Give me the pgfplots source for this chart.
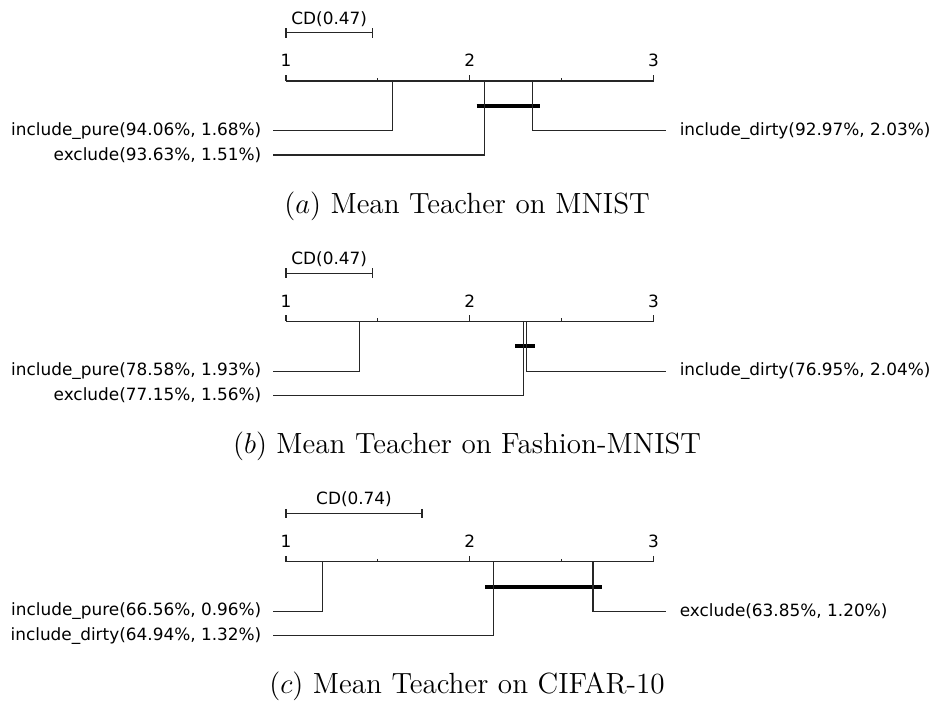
\documentclass[border=0pt]{standalone}
\usepackage{pgfplots}
\pgfplotsset{compat=1.18}
\usepackage{fontspec}
\newfontfamily\dvs{DejaVu Sans}
\newcommand\lab{\dvs\fontsize{8.45}{10}\selectfont}
\newcommand\capf{\fontsize{14.6}{16}\selectfont}
\pgfplotsset{cdaxis/.style={hide axis, clip=false, x=91.9pt, y=0.5pt, y dir=reverse,
  xmin=-0.5561, xmax=4.5147, ymin=0, ymax=240.4, anchor=north west},
  cdthin/.style={black!85, line width=0.55pt, no marks},
  cdthick/.style={black, line width=2pt, no marks}}
\begin{document}
\begin{tikzpicture}
\path[use as bounding box] (0,0) rectangle (466pt,-351pt);
% ---------------- (a) ----------------
\begin{axis}[cdaxis, at={(0,0)}]
\addplot[cdthin] coordinates {(1,81) (3,81)};
\addplot[cdthin] coordinates {(1,75) (1,81)};
\addplot[cdthin] coordinates {(2,75) (2,81)};
\addplot[cdthin] coordinates {(3,75) (3,81)};
\addplot[cdthin] coordinates {(1.5,78) (1.5,81)};
\addplot[cdthin] coordinates {(2.5,78) (2.5,81)};
\node[anchor=base, inner sep=0] at (axis cs:1,66.7) {\lab 1};
\node[anchor=base, inner sep=0] at (axis cs:2,66.7) {\lab 2};
\node[anchor=base, inner sep=0] at (axis cs:3,66.7) {\lab 3};
% CD
\addplot[cdthin] coordinates {(1,32.7) (1.47,32.7)};
\addplot[cdthin] coordinates {(1,28) (1,37.5)};
\addplot[cdthin] coordinates {(1.47,28) (1.47,37.5)};
\node[anchor=base, inner sep=0] at (axis cs:1.235,24) {\lab CD(0.47)};
% clique
\addplot[cdthick] coordinates {(2.037,106) (2.382,106)};
% methods
\addplot[cdthin] coordinates {(1.58,81) (1.58,130.7) (0.931,130.7)};
\addplot[cdthin] coordinates {(2.08,81) (2.08,155) (0.931,155)};
\addplot[cdthin] coordinates {(2.34,81) (2.34,130.7) (3.067,130.7)};
\node[anchor=east, inner sep=0] at (axis cs:0.868,130.7) {\lab include\_pure(94.06\%, 1.68\%)};
\node[anchor=east, inner sep=0] at (axis cs:0.868,155) {\lab exclude(93.63\%, 1.51\%)};
\node[anchor=west, inner sep=0] at (axis cs:3.140,130.7) {\lab include\_dirty(92.97\%, 2.03\%)};
\node[anchor=center, inner sep=0] at (axis cs:1.985,206) {\capf $(a)$ Mean Teacher on MNIST};
\end{axis}
% ---------------- (b) ----------------
\begin{axis}[cdaxis, at={(0,-120.2pt)}]
\addplot[cdthin] coordinates {(1,81) (3,81)};
\addplot[cdthin] coordinates {(1,75) (1,81)};
\addplot[cdthin] coordinates {(2,75) (2,81)};
\addplot[cdthin] coordinates {(3,75) (3,81)};
\addplot[cdthin] coordinates {(1.5,78) (1.5,81)};
\addplot[cdthin] coordinates {(2.5,78) (2.5,81)};
\node[anchor=base, inner sep=0] at (axis cs:1,66.7) {\lab 1};
\node[anchor=base, inner sep=0] at (axis cs:2,66.7) {\lab 2};
\node[anchor=base, inner sep=0] at (axis cs:3,66.7) {\lab 3};
\addplot[cdthin] coordinates {(1,32.7) (1.47,32.7)};
\addplot[cdthin] coordinates {(1,28) (1,37.5)};
\addplot[cdthin] coordinates {(1.47,28) (1.47,37.5)};
\node[anchor=base, inner sep=0] at (axis cs:1.235,24) {\lab CD(0.47)};
\addplot[cdthick] coordinates {(2.246,106) (2.355,106)};
\addplot[cdthin] coordinates {(1.40,81) (1.40,130.7) (0.931,130.7)};
\addplot[cdthin] coordinates {(2.29,81) (2.29,155) (0.931,155)};
\addplot[cdthin] coordinates {(2.31,81) (2.31,130.7) (3.067,130.7)};
\node[anchor=east, inner sep=0] at (axis cs:0.868,130.7) {\lab include\_pure(78.58\%, 1.93\%)};
\node[anchor=east, inner sep=0] at (axis cs:0.868,155) {\lab exclude(77.15\%, 1.56\%)};
\node[anchor=west, inner sep=0] at (axis cs:3.140,130.7) {\lab include\_dirty(76.95\%, 2.04\%)};
\node[anchor=center, inner sep=0] at (axis cs:1.985,206) {\capf $(b)$ Mean Teacher on Fashion-MNIST};
\end{axis}
% ---------------- (c) ----------------
\begin{axis}[cdaxis, at={(0,-240.4pt)}, ymax=221.2]
\addplot[cdthin] coordinates {(1,81) (3,81)};
\addplot[cdthin] coordinates {(1,75) (1,81)};
\addplot[cdthin] coordinates {(2,75) (2,81)};
\addplot[cdthin] coordinates {(3,75) (3,81)};
\addplot[cdthin] coordinates {(1.5,78) (1.5,81)};
\addplot[cdthin] coordinates {(2.5,78) (2.5,81)};
\node[anchor=base, inner sep=0] at (axis cs:1,66.7) {\lab 1};
\node[anchor=base, inner sep=0] at (axis cs:2,66.7) {\lab 2};
\node[anchor=base, inner sep=0] at (axis cs:3,66.7) {\lab 3};
\addplot[cdthin] coordinates {(1,32.7) (1.74,32.7)};
\addplot[cdthin] coordinates {(1,28) (1,37.5)};
\addplot[cdthin] coordinates {(1.74,28) (1.74,37.5)};
\node[anchor=base, inner sep=0] at (axis cs:1.37,24) {\lab CD(0.74)};
\addplot[cdthick] coordinates {(2.083,106) (2.718,106)};
\addplot[cdthin] coordinates {(1.20,81) (1.20,130.7) (0.931,130.7)};
\addplot[cdthin] coordinates {(2.13,81) (2.13,155) (0.931,155)};
\addplot[cdthin] coordinates {(2.67,81) (2.67,130.7) (3.067,130.7)};
\node[anchor=east, inner sep=0] at (axis cs:0.868,130.7) {\lab include\_pure(66.56\%, 0.96\%)};
\node[anchor=east, inner sep=0] at (axis cs:0.868,155) {\lab include\_dirty(64.94\%, 1.32\%)};
\node[anchor=west, inner sep=0] at (axis cs:3.140,130.7) {\lab exclude(63.85\%, 1.20\%)};
\node[anchor=center, inner sep=0] at (axis cs:1.985,205) {\capf $(c)$ Mean Teacher on CIFAR-10};
\end{axis}
\end{tikzpicture}
\end{document}
